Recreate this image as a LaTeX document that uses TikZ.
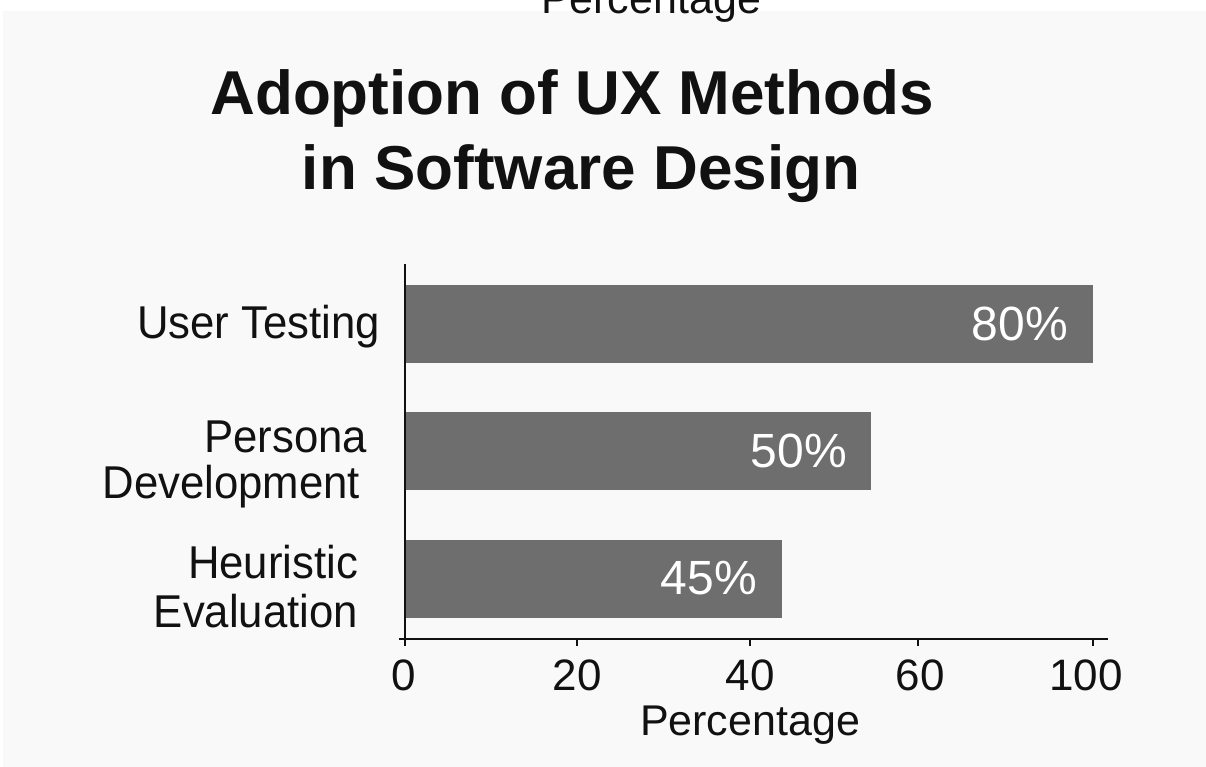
\documentclass[tikz,border=0pt]{standalone}
\usepackage{fontspec}
\setmainfont{Liberation Sans}
\newfontfamily\labfont[FakeStretch=0.95]{Liberation Sans}
\definecolor{bggray}{HTML}{F9F9F9}
\definecolor{barfill}{HTML}{6E6E6E}
\definecolor{ink}{HTML}{111111}
\tikzset{
  txt/.style={inner sep=0pt, outer sep=0pt, text=ink},
  cat/.style={txt, anchor=base east, font=\labfont\fontsize{46}{52}\selectfont},
  ticklab/.style={txt, anchor=base, font=\fontsize{44}{50}\selectfont},
  pct/.style={inner sep=0pt, outer sep=0pt, text=white, anchor=east, font=\fontsize{48}{54}\selectfont},
  titletxt/.style={txt, anchor=base, font=\fontsize{62}{70}\selectfont\bfseries},
  barbox/.style={fill=barfill, draw=none, inner sep=0pt, outer sep=0pt, anchor=west, minimum height=78pt},
  axisline/.style={draw=ink, line width=1.8pt},
  tickline/.style={draw=ink, line width=1.5pt}
}
\begin{document}
\begin{tikzpicture}[x=1pt,y=-1pt]
\useasboundingbox (0,0) rectangle (1206,767);
\clip (0,0) rectangle (1206,767);
\fill[white] (0,0) rectangle (1206,767);
\fill[bggray] (3,11) rectangle (1206,767);

% cut-off label at the top
\node[txt, anchor=base, font=\fontsize{43}{50}\selectfont] (toplab) at (651,14) {Percentage};

% title
\node[titletxt] (t1) at (572,115) {Adoption of UX Methods};
\node[titletxt] (t2) at (581,190) {in Software Design};

% bars
\node[barbox, minimum width=688pt] (b1) at (405,324) {};
\node[barbox, minimum width=466pt] (b2) at (405,450.5) {};
\node[barbox, minimum width=377pt] (b3) at (405,578.5) {};

\node[pct] (p1) at ([xshift=-25pt]b1.east) {80\%};
\node[pct] (p2) at ([xshift=-24pt]b2.east) {50\%};
\node[pct] (p3) at ([xshift=-25pt]b3.east) {45\%};

% category labels
\node[cat] (c1) at (380,338) {User Testing};
\node[cat] (c2a) at (367,452) {Persona};
\node[cat] (c2b) at (360,498) {Development};
\node[cat] (c3a) at (358,578) {Heuristic};
\node[cat] (c3b) at (358,627) {Evaluation};

% axes
\coordinate (ytop) at (405,264);
\coordinate (origin) at (405,639);
\coordinate (xleft) at (399,639);
\coordinate (xright) at (1108,639);
\draw[axisline] (ytop) -- (origin);
\draw[axisline] (xleft) -- (xright);

% ticks
\foreach \x/\lab/\lx [count=\i] in {405/0/404, 577/20/577, 750/40/750, 918/60/920, 1093/100/1086}{
  \coordinate (tk\i) at (\x,639);
  \coordinate (tkb\i) at (\x,646);
  \draw[tickline] (tk\i) -- (tkb\i);
  \node[ticklab] (tl\i) at (\lx,690) {\lab};
}

% axis title
\node[txt, anchor=base, font=\fontsize{43}{50}\selectfont] (xlab) at (750,735) {Percentage};
\end{tikzpicture}
\end{document}
